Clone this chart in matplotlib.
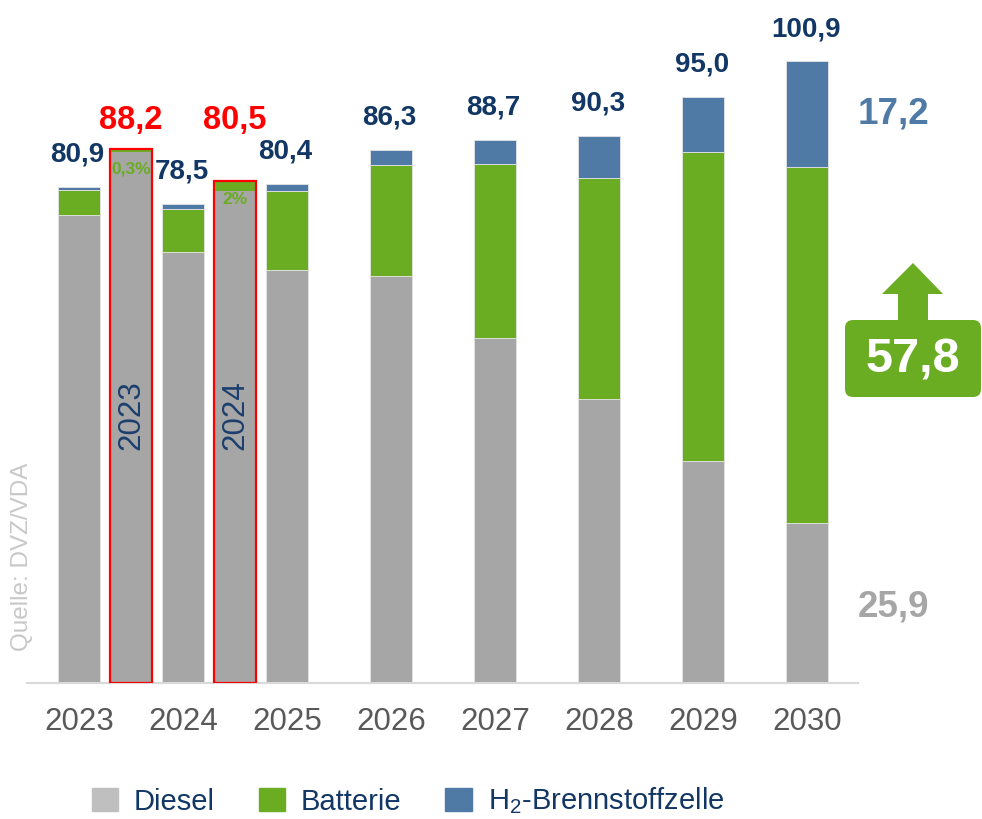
import numpy as np
import matplotlib
matplotlib.use('Agg')
import matplotlib.pyplot as plt
from matplotlib.patches import Patch, FancyBboxPatch, Polygon

plt.rcParams['font.family'] = ['Liberation Sans', 'DejaVu Sans']
plt.rcParams['mathtext.fontset'] = 'custom'
plt.rcParams['mathtext.rm'] = 'Liberation Sans'

# data
years = ['2023', '2024', '2025', '2026', '2027', '2028', '2029', '2030']
diesel = [76.0, 70.0, 67.1, 66.1, 56.0, 46.1, 36.0, 26.0]
batterie = [4.0, 7.0, 12.8, 18.0, 28.2, 35.9, 50.3, 57.8]
h2 = [0.6, 0.8, 1.2, 2.5, 4.0, 6.9, 8.9, 17.2]
total_labels = ['80,9', '78,5', '80,4', '86,3', '88,7', '90,3', '95,0', '100,9']

# red framed comparison bars
hl_years = ['2023', '2024']
hl_diesel = [86.3, 79.9]
hl_batterie = [0.4, 1.7]
hl_labels = ['88,2', '80,5']
hl_share = ['0,3%', '2%']

# 2030 callouts
side_diesel, side_batterie, side_h2 = '25,9', '57,8', '17,2'

GRAY = '#a6a6a6'
GREEN = '#6aad23'
BLUE = '#4f7aa6'
NAVY = '#123764'
RED = '#ff0000'

fig = plt.figure(figsize=(9.82, 8.19), dpi=100)
ax = fig.add_axes([27 / 982, (819 - 683) / 819, 831 / 982, 683 / 819])

x = np.arange(len(years))
hx = np.array([0.5, 1.5])
w = 0.40
d = np.array(diesel)
b = np.array(batterie)
h = np.array(h2)

kw = dict(width=w, edgecolor='#e4e4e4', linewidth=0.6)
ax.bar(x, d, color=GRAY, **kw)
ax.bar(x, b, bottom=d, color=GREEN, **kw)
ax.bar(x, h, bottom=d + b, color=BLUE, **kw)
tot = d + b + h

hd = np.array(hl_diesel)
hb = np.array(hl_batterie)
ax.bar(hx, hd, width=w, color=GRAY, linewidth=0)
ax.bar(hx, hb, bottom=hd, width=w, color=GREEN, linewidth=0)
htot = hd + hb
ax.bar(hx, htot, width=w, fill=False, edgecolor=RED, linewidth=1.6, zorder=3)

for xi, t, lab in zip(x, tot, total_labels):
    ax.annotate(lab, (xi, t), xytext=(-1, 18), textcoords='offset points',
                ha='center', va='baseline', fontsize=20, fontweight='bold',
                color=NAVY, annotation_clip=False)

for xi, t, lab, sh, yr in zip(hx, htot, hl_labels, hl_share, hl_years):
    ax.annotate(lab, (xi, htot.max()), xytext=(0, 14.5), textcoords='offset points',
                ha='center', va='baseline', fontsize=23.5, fontweight='bold',
                color=RED, annotation_clip=False)
    ax.annotate(sh, (xi, t), xytext=(0, -14), textcoords='offset points',
                ha='center', va='center', fontsize=12.5, fontweight='bold', color=GREEN)
    ax.text(xi, 43.5, yr, rotation=90, ha='center', va='center',
            fontsize=22.5, color='#1c3f6e')

# right side value labels for 2030
ax.annotate(side_h2, (7, d[-1] + b[-1] + h[-1] / 2), xytext=(62, 0),
            textcoords='offset points', ha='center', va='center',
            fontsize=26.5, fontweight='bold', color=BLUE, annotation_clip=False)
ax.annotate(side_diesel, (7, d[-1] / 2), xytext=(62, -3),
            textcoords='offset points', ha='center', va='center',
            fontsize=26.5, fontweight='bold', color=GRAY, annotation_clip=False)

ax.set_xlim(-0.5, 7.49)
ax.set_ylim(0, 683 / 6.158)
ax.set_xticks(x)
ax.set_xticklabels(years, fontsize=22.5, color='#595959')
ax.set_yticks([])
ax.tick_params(axis='x', length=0, pad=17)
for s in ['top', 'right', 'left']:
    ax.spines[s].set_visible(False)
ax.spines['bottom'].set_color('#d9d9d9')
ax.spines['bottom'].set_linewidth(1.5)

# green callout box with arrow (pixel overlay)
ov = fig.add_axes([0, 0, 1, 1])
ov.set_xlim(0, 982)
ov.set_ylim(819, 0)
ov.axis('off')
ov.patch.set_alpha(0)
arrow = Polygon([(913, 263), (943, 294), (928, 294), (928, 322), (898, 322),
                 (898, 294), (882, 294)], closed=True, color=GREEN, lw=0)
ov.add_patch(arrow)
box = FancyBboxPatch((845, 320), 136, 77, boxstyle='round,pad=0,rounding_size=8',
                     fc=GREEN, ec='none')
ov.add_patch(box)
ov.text(913, 360, side_batterie, ha='center', va='center', fontsize=35,
        fontweight='bold', color='white')

fig.text(22 / 982, 1 - 557 / 819, 'Quelle: DVZ/VDA', rotation=90, ha='center',
         va='center', fontsize=17.5, color='#c8c8c8')

handles = [Patch(color='#bfbfbf'), Patch(color=GREEN), Patch(color=BLUE)]
labels = ['Diesel', 'Batterie', r'H$_\mathrm{2}$-Brennstoffzelle']
fig.legend(handles, labels, loc='center', bbox_to_anchor=(408 / 982, 1 - 801 / 819),
           ncol=3, frameon=False, fontsize=21, handlelength=0.9, handleheight=0.8,
           handletextpad=0.55, columnspacing=1.5, labelcolor=NAVY)

fig.savefig('out.png', dpi=100)
